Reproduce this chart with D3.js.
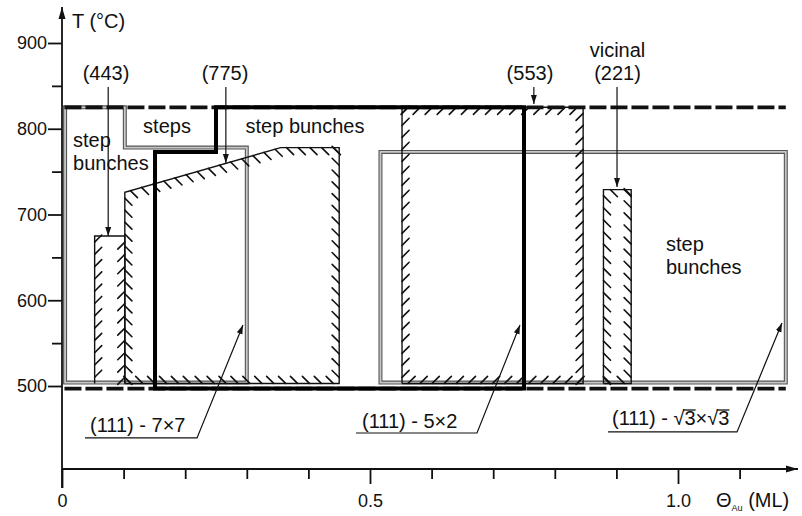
<!DOCTYPE html>
<html><head><meta charset="utf-8">
<script src="https://cdn.jsdelivr.net/npm/d3@7"></script>
<style>
body{margin:0;background:#fff}
svg{display:block}
text{font-family:"Liberation Sans",Arial,Helvetica,sans-serif;fill:#111}
</style>
</head><body>
<svg id="c" width="802" height="516"></svg>
<script>
// ---------- data (x: coverage Θ_Au in ML, y: temperature °C) ----------
const xTicksMajor = [0.5, 1.0];
const xTickLabels = ["0.5", "1.0"];
const xTicksMinor = [0.1, 0.2, 0.3, 0.4, 0.6, 0.7, 0.8, 0.9, 1.1];
const yTicksMajor = [500, 600, 700, 800, 900];
const yTickLabels = ["500", "600", "700", "800", "900"];
const yTicksMinor = [550, 650, 750, 850];

const limitTemps = [825, 497];           // dashed limit lines
const limitExtent = [0.004, 1.175];

// gray-outlined "step bunches" regions
const bunchesLeft  = [[0.005,825],[0.102,825],[0.102,778],[0.3,778],[0.3,504],[0.005,504]];
const bunchesRight = [[0.517,773],[1.175,773],[1.175,504],[0.517,504]];
// thick outlined region
const thickRegion  = [[0.151,497],[0.151,773],[0.25,773],[0.25,825],[0.75,825],[0.75,497]];
// hatched phase regions
const phase443     = [[0.053,503],[0.053,675],[0.102,675],[0.102,503]];
const phase7x7     = [[0.102,503],[0.102,726],[0.355,778],[0.45,778],[0.45,503]];
const phase5x2     = [[0.552,503],[0.552,825],[0.846,825],[0.846,503]];
const phaseVicinal = [[0.879,503],[0.879,729],[0.924,729],[0.924,503]];

// top labels with vertical arrows
const topLabels = [
  {lines:["(443)"], tx:0.0714, ax:0.075, T0:848.7, T1:675},
  {lines:["(775)"], tx:0.2646, ax:0.266, T0:848.7, T1:760},
  {lines:["(553)"], tx:0.7597, ax:0.766, T0:848.7, T1:829},
  {lines:["vicinal","(221)"], tx:0.9018, ax:0.901, T0:848.7, T1:732}
];
const topLabelBaselines = [883.7, 856.8];

// bottom phase labels with underline leaders
const phaseLabels = [
  {text:"(111) - 7×7",   tx:0.0455, tT:446.4, x0:0.0373, x1:0.2192, uT:439.4, tip:[0.2938,571.1]},
  {text:"(111) - 5×2",   tx:0.487,  tT:451.0, x0:0.4773, x1:0.6737, uT:445.2, tip:[0.7435,571.1]},
  {text:"(111) - √3×√3", tx:0.8929, tT:454.5, x0:0.8864, x1:1.0958, uT:446.4, tip:[1.1688,573.5]}
];

// region text labels
const regionLabels = [
  {lines:["step","bunches"], x:0.0179, T:[778.7,751.9], anchor:"start"},
  {lines:["steps"],          x:0.1705, T:[795],         anchor:"middle"},
  {lines:["step bunches"],   x:0.3945, T:[795],         anchor:"middle"},
  {lines:["step","bunches"], x:0.9805, T:[657.5,631.0], anchor:"start"}
];

// ---------- layout ----------
const svg = d3.select("#c");
const x = d3.scaleLinear().domain([0,1]).range([62,678]);
const y = d3.scaleLinear().domain([500,900]).range([386,43]);
const axisYpos = 469;

const defs = svg.append("defs");
defs.append("marker").attr("id","ah").attr("viewBox","0 -4 9 8")
  .attr("refX",9).attr("refY",0).attr("markerWidth",9).attr("markerHeight",8)
  .attr("markerUnits","userSpaceOnUse").attr("orient","auto")
  .append("path").attr("d","M0,-3L9,0L0,3Z").attr("fill","#111");
defs.append("marker").attr("id","axh").attr("viewBox","0 -4 12 8")
  .attr("refX",12).attr("refY",0).attr("markerWidth",12).attr("markerHeight",8)
  .attr("markerUnits","userSpaceOnUse").attr("orient","auto")
  .append("path").attr("d","M0,-3.5L12,0L0,3.5Z").attr("fill","#111");

const line = d3.line().x(d=>x(d[0])).y(d=>y(d[1]));

// gray double-lined regions
function grayPoly(pts){
  const dstr = line(pts)+"Z";
  svg.append("path").attr("d",dstr).attr("fill","none").attr("stroke","#555").attr("stroke-width",4);
  svg.append("path").attr("d",dstr).attr("fill","none").attr("stroke","#c8c8c8").attr("stroke-width",1.8);
}
grayPoly(bunchesLeft);
grayPoly(bunchesRight);

// hatch marks along polygon edges
function hatch(pts, orient, edges, closed){
  const P = pts.map(p=>[x(p[0]), y(p[1])]);
  const dd = orient==="\\" ? [Math.SQRT1_2, Math.SQRT1_2] : [Math.SQRT1_2, -Math.SQRT1_2];
  const L = 10, s = 12;
  const segs = [];
  for(let i=0;i<P.length;i++){
    if(edges && !edges.includes(i)) continue;
    const a=P[i], b=P[(i+1)%P.length];
    const ex=b[0]-a[0], ey=b[1]-a[1], len=Math.hypot(ex,ey);
    let nx=-ey/len, ny=ex/len;
    const mx=(a[0]+b[0])/2, my=(a[1]+b[1])/2;
    if(!d3.polygonContains(P,[mx+nx*2,my+ny*2])){nx=-nx;ny=-ny;}
    let dx=dd[0], dy=dd[1];
    if(dx*nx+dy*ny<0){dx=-dx;dy=-dy;}
    const n=Math.max(1,Math.round(len/s));
    for(let k=0;k<n;k++){
      const t=(k+0.5)/n;
      const px=a[0]+ex*t, py=a[1]+ey*t;
      segs.push([px,py,px+dx*L,py+dy*L]);
    }
  }
  const g = svg.append("g");
  g.selectAll("line").data(segs).join("line")
    .attr("x1",d=>d[0]).attr("y1",d=>d[1]).attr("x2",d=>d[2]).attr("y2",d=>d[3])
    .attr("stroke","#111").attr("stroke-width",1.6).attr("stroke-linecap","round");
  g.append("path").attr("d", line(closed?pts.concat([pts[0]]):pts))
    .attr("fill","none").attr("stroke","#111").attr("stroke-width",1.4);
}
hatch(phase7x7, "\\", null, true);
hatch(phase443, "/", [0,2], false);
hatch(phase5x2, "/", null, true);
hatch(phaseVicinal, "\\", null, true);

// dashed limit lines
svg.selectAll(".lim").data(limitTemps).join("line").attr("class","lim")
  .attr("x1",x(limitExtent[0])).attr("x2",x(limitExtent[1]))
  .attr("y1",d=>y(d)).attr("y2",d=>y(d))
  .attr("stroke","#111").attr("stroke-width",3.8).attr("stroke-dasharray","17,4");

// thick region
svg.append("path").attr("d", line(thickRegion)+"Z").attr("fill","none")
  .attr("stroke","#000").attr("stroke-width",4).attr("stroke-linejoin","miter");

// ---------- axes ----------
svg.append("line").attr("x1",x(0)).attr("x2",x(0)).attr("y1",488).attr("y2",7)
  .attr("stroke","#111").attr("stroke-width",1.8).attr("marker-end","url(#axh)");
svg.append("line").attr("x1",x(0)).attr("x2",798).attr("y1",axisYpos).attr("y2",axisYpos)
  .attr("stroke","#111").attr("stroke-width",1.8).attr("marker-end","url(#axh)");

function styleAxis(g, fs){
  g.select(".domain").remove();
  g.selectAll(".tick line").attr("stroke","#111").attr("stroke-width",1.8);
  g.selectAll(".tick text").attr("font-size",fs).attr("fill","#111")
    .style("font-family",'"Liberation Sans",Arial,sans-serif');
}
const yMaj = svg.append("g").attr("transform",`translate(${x(0)},0)`)
  .call(d3.axisLeft(y).tickValues(yTicksMajor).tickSize(14).tickPadding(1)
    .tickFormat((d,i)=>yTickLabels[i]));
styleAxis(yMaj, 18);
const yMin = svg.append("g").attr("transform",`translate(${x(0)},0)`)
  .call(d3.axisLeft(y).tickValues(yTicksMinor).tickSize(10).tickFormat(""));
styleAxis(yMin, 18);

const xMaj = svg.append("g").attr("transform",`translate(0,${axisYpos})`)
  .call(d3.axisBottom(x).tickValues(xTicksMajor).tickSize(15).tickPadding(10)
    .tickFormat((d,i)=>xTickLabels[i]));
styleAxis(xMaj, 18);
const xMin = svg.append("g").attr("transform",`translate(0,${axisYpos})`)
  .call(d3.axisBottom(x).tickValues(xTicksMinor).tickSize(10).tickFormat(""));
styleAxis(xMin, 18);
const x0 = svg.append("g").attr("transform",`translate(0,${axisYpos})`)
  .call(d3.axisBottom(x).tickValues([0]).tickSize(19).tickPadding(6).tickFormat(()=>"0"));
styleAxis(x0, 18);

svg.append("text").attr("x",72).attr("y",28).attr("font-size",20).text("T (°C)");
const xt = svg.append("text").attr("x",716).attr("y",507).attr("font-size",20);
xt.append("tspan").text("Θ");
xt.append("tspan").attr("font-size",9).attr("dy",4).text("Au");
xt.append("tspan").attr("dy",-4).text(" (ML)");

// ---------- top labels ----------
topLabels.forEach(lb=>{
  const n = lb.lines.length;
  lb.lines.forEach((t,i)=>{
    svg.append("text").attr("x",x(lb.tx)).attr("y",y(topLabelBaselines[2-n+i]))
      .attr("text-anchor","middle").attr("font-size",20).text(t);
  });
  svg.append("line").attr("x1",x(lb.ax)).attr("x2",x(lb.ax)).attr("y1",y(lb.T0)).attr("y2",y(lb.T1))
    .attr("stroke","#111").attr("stroke-width",1.2).attr("marker-end","url(#ah)");
});

// ---------- phase labels ----------
phaseLabels.forEach(lb=>{
  const t = svg.append("text").attr("x",x(lb.tx)).attr("y",y(lb.tT)).attr("font-size",20).text(lb.text);
  svg.append("path").attr("d", line([[lb.x0,lb.uT],[lb.x1,lb.uT],lb.tip]))
    .attr("fill","none").attr("stroke","#111").attr("stroke-width",1.2).attr("marker-end","url(#ah)");
  // overline for radicals
  const str = lb.text;
  const node = t.node();
  for(let i=0;i<str.length;i++){
    if(str[i]==="√" && i+1<str.length){
      const xs = node.getEndPositionOfChar(i).x - 1.5;
      const xe = node.getEndPositionOfChar(i+1).x;
      const yy = y(lb.tT) - 15;
      svg.append("line").attr("x1",xs).attr("x2",xe).attr("y1",yy).attr("y2",yy)
        .attr("stroke","#111").attr("stroke-width",1.3);
    }
  }
});

// ---------- region labels ----------
regionLabels.forEach(lb=>{
  lb.lines.forEach((t,i)=>{
    svg.append("text").attr("x",x(lb.x)).attr("y",y(lb.T[i]))
      .attr("text-anchor",lb.anchor).attr("font-size",20).text(t);
  });
});
</script>
</body></html>
